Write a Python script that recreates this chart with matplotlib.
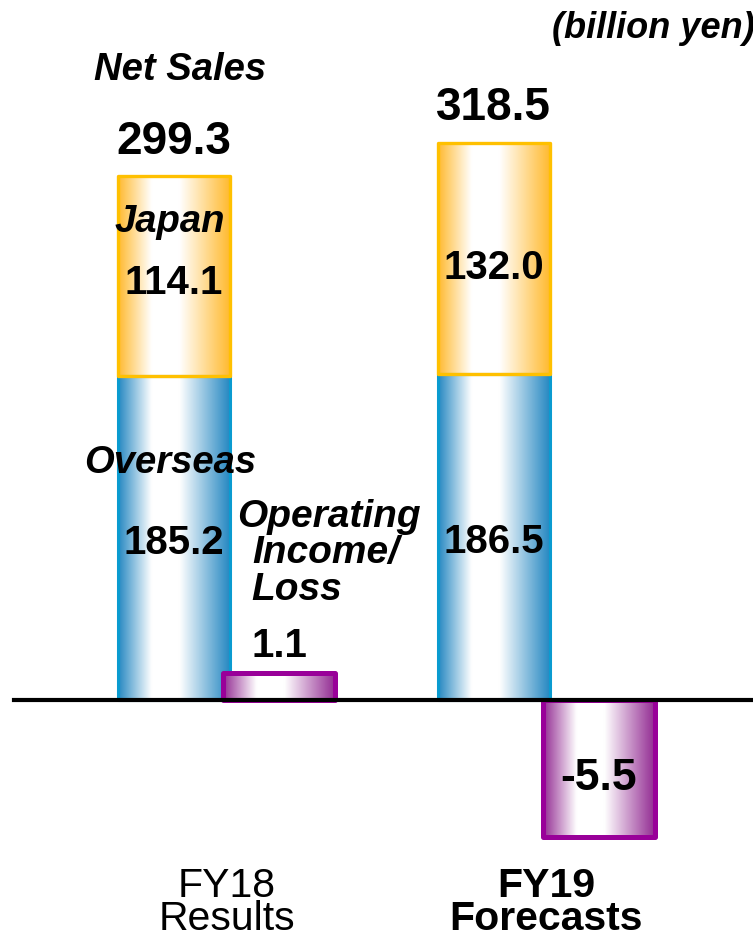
import numpy as np
import matplotlib
matplotlib.use("Agg")
import matplotlib.pyplot as plt
from matplotlib.colors import LinearSegmentedColormap
from matplotlib.lines import Line2D
from matplotlib.transforms import blended_transform_factory

plt.rcParams['font.family'] = ['Liberation Sans', 'DejaVu Sans']

# ---- data ----
categories = ["FY18", "FY19"]
category_sub = ["Results", "Forecasts"]
overseas = [185.2, 186.5]
japan = [114.1, 132.0]
net_sales = [299.3, 318.5]
op_income = [1.1, -5.5]

W, H = 753, 939
fig = plt.figure(figsize=(W / 100, H / 100), dpi=100)
ax = fig.add_axes([0, 0, 1, 1])
ax2 = ax.twinx()
ax.set_position([0, 0, 1, 1])
ax2.set_position([0, 0, 1, 1])
for a in (ax, ax2):
    a.axis('off')

# scales (pixels per unit)
zero_px = 700
k_sales = 1.75
k_op = 24.9
unit = 319.5          # pixels between groups
x0_px = 226.5         # pixel of group 0
ylim1 = (-(H - zero_px) / k_sales, zero_px / k_sales)
ylim2 = (-(H - zero_px) / k_op, zero_px / k_op)
xlim = (-x0_px / unit, (W - x0_px) / unit)

off = 52.5 / unit
width = 112 / unit


def cmap_for(edge):
    return LinearSegmentedColormap.from_list(
        'g', [(0.0, edge), (0.30, 'white'), (0.55, 'white'), (1.0, edge)])


blue_cm = cmap_for('#2688C2')
orange_cm = cmap_for('#FFBA30')
purple_cm = cmap_for('#932C93')
grad = np.linspace(0, 1, 256).reshape(1, -1)


def grad_bars(a, xs, heights, bottoms, cmap, edgecolor, lw, z):
    bars = a.bar(xs, heights, width, bottom=bottoms, facecolor='none',
                 edgecolor=edgecolor, linewidth=lw, zorder=z + 1)
    for r in bars:
        r.set_joinstyle('round')
        x0, y0 = r.get_x(), r.get_y()
        x1, y1 = x0 + r.get_width(), y0 + r.get_height()
        im = a.imshow(grad, extent=[x0, x1, min(y0, y1), max(y0, y1)],
                      aspect='auto', cmap=cmap, zorder=z, interpolation='bicubic')
        im.set_clip_path(r)
    return bars


idx = np.arange(len(categories))
xs_sales = idx - off
xs_op = idx + off

grad_bars(ax, xs_sales, overseas, 0, blue_cm, '#0A9BD0', 2.2, 2)
grad_bars(ax, xs_sales, japan, overseas, orange_cm, '#FFC000', 2.4, 2)
grad_bars(ax2, xs_op, op_income, 0, purple_cm, '#990099', 3.6, 2)

ax.set_xlim(*xlim)
ax2.set_xlim(*xlim)
ax.set_ylim(*ylim1)
ax2.set_ylim(*ylim2)

num_fs = 29
lab_fs = 27.5
tot_fs = 33

# value labels inside bars
for i in idx:
    ax.text(xs_sales[i], overseas[i] * 0.45, f"{overseas[i]:.1f}", ha='center',
            va='baseline', fontsize=num_fs, fontweight='bold', zorder=10)
    ax.text(xs_sales[i], overseas[i] + japan[i] * 0.41, f"{japan[i]:.1f}",
            ha='center', va='baseline', fontsize=num_fs, fontweight='bold', zorder=10)
    ax.annotate(f"{net_sales[i]:.1f}", (xs_sales[i], net_sales[i]),
                xytext=(0, 16), textcoords='offset points', ha='center',
                va='baseline', fontsize=tot_fs, fontweight='bold', zorder=10)

# operating income labels
ax2.annotate(f"{op_income[0]:.1f}", (xs_op[0], op_income[0]), xytext=(0, 11),
             textcoords='offset points', ha='center', va='baseline',
             fontsize=num_fs, fontweight='bold', zorder=10)
ax2.text(xs_op[1], op_income[1] * 0.66, f"{op_income[1]:.1f}", ha='center',
         va='baseline', fontsize=32, fontweight='bold', zorder=10)

# segment names (FY18 only)
ax.text(xs_sales[0] - 4 / unit, overseas[0] + japan[0] * 0.72, "Japan",
        ha='center', va='baseline', fontsize=lab_fs, fontweight='bold',
        style='italic', zorder=10)
ax.text(xs_sales[0] - 4 / unit, overseas[0] * 0.70, "Overseas",
        ha='center', va='baseline', fontsize=lab_fs, fontweight='bold',
        style='italic', zorder=10)


def ftext(x, y, s, **kw):
    fig.text(x / W, 1 - y / H, s, **kw)


ftext(180, 80, "Net Sales", ha='center', va='baseline', fontsize=lab_fs,
      fontweight='bold', style='italic')
ftext(552, 38, "(billion yen)", ha='left', va='baseline', fontsize=26,
      fontweight='bold', style='italic')
ftext(237, 527, "Operating", ha='left', va='baseline', fontsize=28,
      fontweight='bold', style='italic', zorder=10)
ftext(252, 563, "Income/", ha='left', va='baseline', fontsize=28,
      fontweight='bold', style='italic', zorder=10)
ftext(251, 600, "Loss", ha='left', va='baseline', fontsize=28,
      fontweight='bold', style='italic', zorder=10)

# category labels
bt = blended_transform_factory(ax.transData, fig.transFigure)
for i in idx:
    wt = 'normal' if i == 0 else 'bold'
    ax.text(i, 1 - 930 / H, categories[i] + "\n" + category_sub[i], transform=bt,
            ha='center', va='baseline', fontsize=29.5, fontweight=wt,
            linespacing=0.82, multialignment='center')

# zero line
fig.add_artist(Line2D([14 / W, 1], [1 - zero_px / H] * 2,
                      transform=fig.transFigure, color='black', lw=3.0, zorder=20))

fig.savefig("out.png", dpi=100)
